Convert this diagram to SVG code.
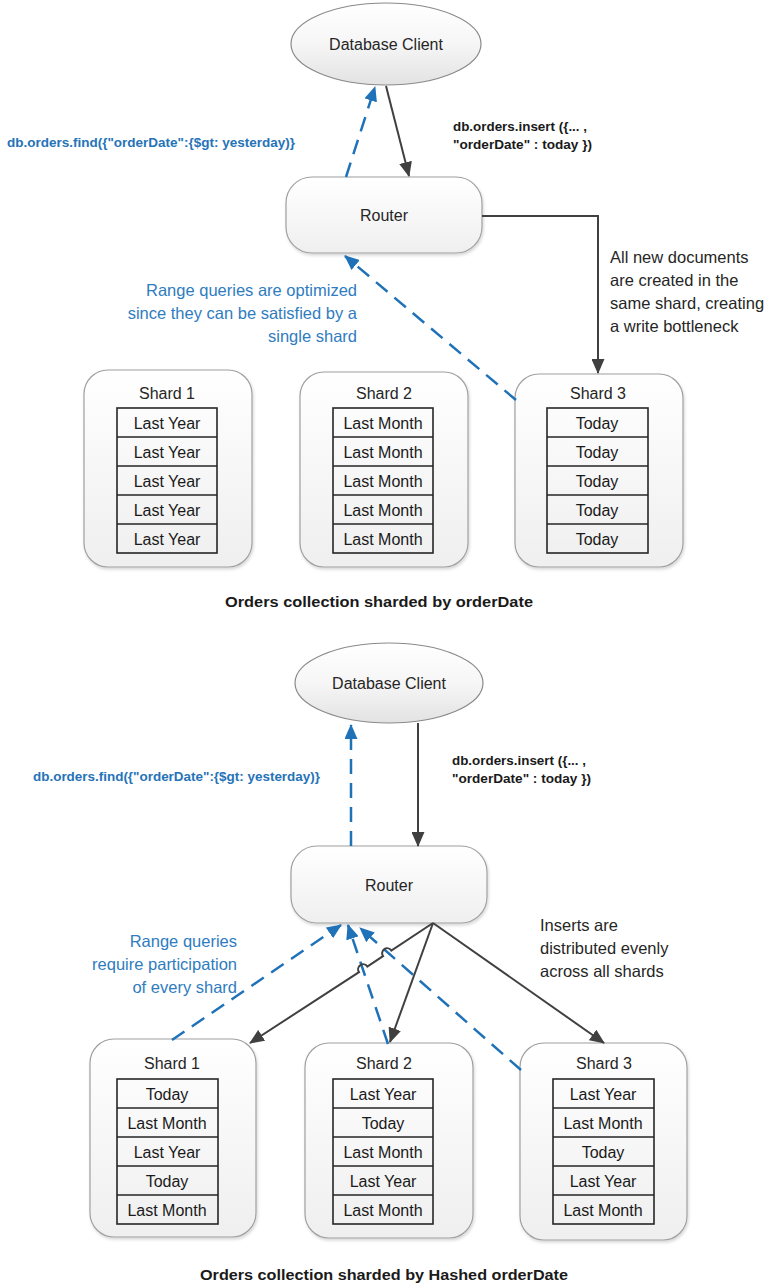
<svg xmlns="http://www.w3.org/2000/svg" width="770" height="1286" viewBox="0 0 770 1286">
<style>
  text { font-family: "Liberation Sans", Arial, sans-serif; }
  .lbl { font-size: 16px; fill: #262626; text-anchor: middle; }
  .cell { font-size: 16px; fill: #1a1a1a; text-anchor: middle; }
  .ann { font-size: 16.5px; fill: #262626; }
  .annb { font-size: 16.5px; fill: #2f7cc0; text-anchor: end; }
  .code { font-size: 12.5px; font-weight: bold; fill: #1a1a1a; }
  .codeb { font-size: 12.5px; font-weight: bold; fill: #2673b8; }
  .cap { font-size: 14.5px; font-weight: bold; fill: #1a1a1a; text-anchor: middle; }
  .box { fill: url(#boxg); stroke: #a0a0a0; stroke-width: 1.2; filter: url(#sh); }
  .ell { fill: url(#ellg); stroke: #8a8a8a; stroke-width: 1.2; }
  .tbl { fill: none; stroke: #262626; stroke-width: 1.6; }
  .dark { fill: none; stroke: #404040; stroke-width: 2; }
  .blue { fill: none; stroke: #1f72b8; stroke-width: 2.5; stroke-dasharray: 15 9; }
</style>
<defs>
  <linearGradient id="boxg" x1="0" y1="0" x2="0" y2="1">
    <stop offset="0" stop-color="#ffffff"/>
    <stop offset="1" stop-color="#efefef"/>
  </linearGradient>
  <linearGradient id="ellg" x1="0" y1="0" x2="0" y2="1">
    <stop offset="0" stop-color="#ffffff"/>
    <stop offset="0.5" stop-color="#f6f6f6"/>
    <stop offset="1" stop-color="#e2e2e2"/>
  </linearGradient>
  <filter id="sh" x="-10%" y="-10%" width="125%" height="125%">
    <feDropShadow dx="1" dy="2" stdDeviation="1.5" flood-color="#000" flood-opacity="0.16"/>
  </filter>
  <marker id="ad" markerUnits="userSpaceOnUse" markerWidth="15" markerHeight="13" refX="14" refY="6.5" orient="auto">
    <path d="M0,0 L15,6.5 L0,13 z" fill="#404040"/>
  </marker>
  <marker id="ab" markerUnits="userSpaceOnUse" markerWidth="15" markerHeight="13" refX="14" refY="6.5" orient="auto">
    <path d="M0,0 L15,6.5 L0,13 z" fill="#1f72b8"/>
  </marker>
</defs>

<!-- ========== TOP DIAGRAM ========== -->
<g id="top-client">
  <ellipse class="ell" cx="386" cy="44" rx="95" ry="41"/>
  <text class="lbl" x="386" y="50">Database Client</text>
</g>
<g id="top-router">
  <rect class="box" x="286" y="177" width="196" height="76" rx="26"/>
  <text class="lbl" x="384" y="221">Router</text>
</g>

<g id="top-shard1">
  <rect class="box" x="84" y="370" width="168" height="197" rx="24"/>
  <text class="lbl" x="167" y="399">Shard 1</text>
  <rect class="tbl" x="117" y="408" width="100" height="145"/>
  <path class="tbl" d="M117,437H217M117,466H217M117,495H217M117,524H217"/>
  <text class="cell" x="167" y="429">Last Year</text>
  <text class="cell" x="167" y="458">Last Year</text>
  <text class="cell" x="167" y="487">Last Year</text>
  <text class="cell" x="167" y="516">Last Year</text>
  <text class="cell" x="167" y="545">Last Year</text>
</g>
<g id="top-shard2">
  <rect class="box" x="300" y="372" width="168" height="195" rx="24"/>
  <text class="lbl" x="384" y="399">Shard 2</text>
  <rect class="tbl" x="333" y="408" width="100" height="145"/>
  <path class="tbl" d="M333,437H433M333,466H433M333,495H433M333,524H433"/>
  <text class="cell" x="383" y="429">Last Month</text>
  <text class="cell" x="383" y="458">Last Month</text>
  <text class="cell" x="383" y="487">Last Month</text>
  <text class="cell" x="383" y="516">Last Month</text>
  <text class="cell" x="383" y="545">Last Month</text>
</g>
<g id="top-shard3">
  <rect class="box" x="515" y="374" width="168" height="193" rx="24"/>
  <text class="lbl" x="598" y="399">Shard 3</text>
  <rect class="tbl" x="547" y="408" width="101" height="145"/>
  <path class="tbl" d="M547,437H648M547,466H648M547,495H648M547,524H648"/>
  <text class="cell" x="597" y="429">Today</text>
  <text class="cell" x="597" y="458">Today</text>
  <text class="cell" x="597" y="487">Today</text>
  <text class="cell" x="597" y="516">Today</text>
  <text class="cell" x="597" y="545">Today</text>
</g>

<g id="top-connectors">
  <line class="dark" x1="386" y1="86" x2="409" y2="176" marker-end="url(#ad)"/>
  <line class="blue" x1="346" y1="177" x2="375" y2="87" marker-end="url(#ab)"/>
  <polyline class="dark" points="482,216 598,216 598,373" marker-end="url(#ad)"/>
  <line class="blue" x1="516" y1="400" x2="345" y2="256" marker-end="url(#ab)"/>
</g>

<g id="top-labels">
  <text class="codeb" x="7" y="147" textLength="288" lengthAdjust="spacingAndGlyphs">db.orders.find({"orderDate":{$gt: yesterday)}</text>
  <text class="code" x="453" y="131" textLength="134" lengthAdjust="spacingAndGlyphs">db.orders.insert ({... ,</text>
  <text class="code" x="453" y="149" textLength="139" lengthAdjust="spacingAndGlyphs">"orderDate" : today })</text>
  <text class="ann" x="610" y="263">All new documents</text>
  <text class="ann" x="610" y="286">are created in the</text>
  <text class="ann" x="610" y="309">same shard, creating</text>
  <text class="ann" x="610" y="332">a write bottleneck</text>
  <text class="annb" x="357" y="296">Range queries are optimized</text>
  <text class="annb" x="357" y="319">since they can be satisfied by a</text>
  <text class="annb" x="357" y="342">single shard</text>
  <text class="cap" x="379" y="607" textLength="308" lengthAdjust="spacingAndGlyphs">Orders collection sharded by orderDate</text>
</g>

<!-- ========== BOTTOM DIAGRAM ========== -->
<g id="bot-client">
  <ellipse class="ell" cx="389" cy="683" rx="94" ry="40"/>
  <text class="lbl" x="389" y="689">Database Client</text>
</g>
<g id="bot-router">
  <rect class="box" x="291" y="846" width="196" height="77" rx="26"/>
  <text class="lbl" x="389" y="891">Router</text>
</g>

<g id="bot-shard1">
  <rect class="box" x="90" y="1039" width="166" height="198" rx="24"/>
  <text class="lbl" x="172" y="1069">Shard 1</text>
  <rect class="tbl" x="117" y="1079" width="101" height="145"/>
  <path class="tbl" d="M117,1108H218M117,1137H218M117,1166H218M117,1195H218"/>
  <text class="cell" x="167" y="1100">Today</text>
  <text class="cell" x="167" y="1129">Last Month</text>
  <text class="cell" x="167" y="1158">Last Year</text>
  <text class="cell" x="167" y="1187">Today</text>
  <text class="cell" x="167" y="1216">Last Month</text>
</g>
<g id="bot-shard2">
  <rect class="box" x="305" y="1043" width="168" height="195" rx="24"/>
  <text class="lbl" x="384" y="1069">Shard 2</text>
  <rect class="tbl" x="333" y="1079" width="100" height="145"/>
  <path class="tbl" d="M333,1108H433M333,1137H433M333,1166H433M333,1195H433"/>
  <text class="cell" x="383" y="1100">Last Year</text>
  <text class="cell" x="383" y="1129">Today</text>
  <text class="cell" x="383" y="1158">Last Month</text>
  <text class="cell" x="383" y="1187">Last Year</text>
  <text class="cell" x="383" y="1216">Last Month</text>
</g>
<g id="bot-shard3">
  <rect class="box" x="520" y="1043" width="167" height="197" rx="24"/>
  <text class="lbl" x="604" y="1069">Shard 3</text>
  <rect class="tbl" x="553" y="1079" width="101" height="145"/>
  <path class="tbl" d="M553,1108H654M553,1137H654M553,1166H654M553,1195H654"/>
  <text class="cell" x="603" y="1100">Last Year</text>
  <text class="cell" x="603" y="1129">Last Month</text>
  <text class="cell" x="603" y="1158">Today</text>
  <text class="cell" x="603" y="1187">Last Year</text>
  <text class="cell" x="603" y="1216">Last Month</text>
</g>

<g id="bot-connectors">
  <line class="dark" x1="418" y1="723" x2="418" y2="846" marker-end="url(#ad)"/>
  <line class="blue" x1="351" y1="846" x2="351" y2="725" marker-end="url(#ab)"/>
  <line class="blue" x1="172" y1="1040" x2="341" y2="925" marker-end="url(#ab)"/>
  <line class="blue" x1="388" y1="1044" x2="348" y2="925" marker-end="url(#ab)"/>
  <line class="blue" x1="521" y1="1070" x2="360" y2="928" marker-end="url(#ab)"/>
  <path class="dark" d="M433,923 L391.3,950.5 A5,5 0 0 0 383.0,956.1 L367.3,966.5 A5,5 0 0 0 359.0,972.1 L250,1043" marker-end="url(#ad)"/>
  <line class="dark" x1="433" y1="923" x2="390" y2="1042" marker-end="url(#ad)"/>
  <line class="dark" x1="433" y1="923" x2="604" y2="1043" marker-end="url(#ad)"/>
</g>

<g id="bot-labels">
  <text class="codeb" x="33" y="781" textLength="287" lengthAdjust="spacingAndGlyphs">db.orders.find({"orderDate":{$gt: yesterday)}</text>
  <text class="code" x="452" y="765" textLength="134" lengthAdjust="spacingAndGlyphs">db.orders.insert ({... ,</text>
  <text class="code" x="452" y="783" textLength="139" lengthAdjust="spacingAndGlyphs">"orderDate" : today })</text>
  <text class="annb" x="237" y="947">Range queries</text>
  <text class="annb" x="237" y="970">require participation</text>
  <text class="annb" x="237" y="993">of every shard</text>
  <text class="ann" x="540" y="931">Inserts are</text>
  <text class="ann" x="540" y="954">distributed evenly</text>
  <text class="ann" x="540" y="977">across all shards</text>
  <text class="cap" x="384" y="1280" textLength="368" lengthAdjust="spacingAndGlyphs">Orders collection sharded by Hashed orderDate</text>
</g>
</svg>
